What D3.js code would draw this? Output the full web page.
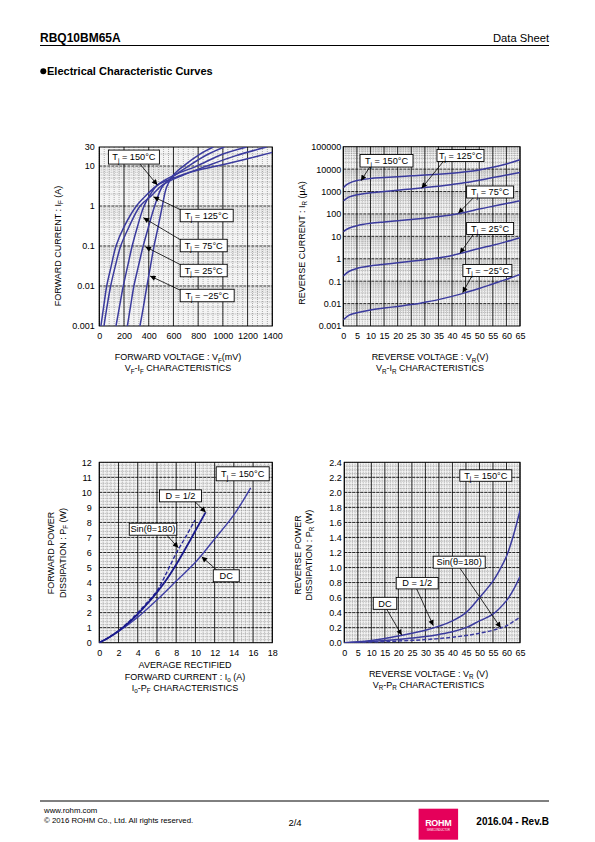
<!DOCTYPE html>
<html><head><meta charset="utf-8">
<script src="https://cdn.jsdelivr.net/npm/d3@7"></script>
<style>
body{margin:0;background:#fff}
svg{display:block}
text{font-family:"Liberation Sans",Arial,Helvetica,sans-serif;fill:#000}
</style>
</head><body>
<svg id="c" width="595" height="842"></svg>
<script>
// ---------------- DATA ----------------
// Chart 1: VF (mV) - IF (A)
const vfTicks = [0,200,400,600,800,1000,1200,1400];
const ifTicks = [0.001,0.01,0.1,1,10,30];
const vfif150 = [[13,0.001],[35,0.003],[60,0.01],[95,0.03],[135,0.1],[200,0.3],[300,1],[390,2],[470,3.35],[600,5],[750,7.2],[950,10],[1150,14],[1400,22]];
const vfif125 = [[38,0.001],[62,0.003],[92,0.01],[128,0.03],[173,0.1],[240,0.3],[330,1],[420,1.8],[510,3.35],[680,6],[869,10],[1100,18],[1355,30]];
const vfif75  = [[135,0.001],[163,0.003],[194,0.01],[228,0.03],[266,0.1],[308,0.3],[362,1],[415,2],[470,3.35],[610,6],[788,10],[1000,20],[1193,30]];
const vfif25  = [[227,0.001],[252,0.003],[280,0.01],[315,0.03],[355,0.1],[398,0.3],[448,1],[508,3],[580,5],[721,10],[883,20],[1012,30]];
const vfifM25 = [[329,0.001],[357,0.003],[385,0.01],[413,0.03],[443,0.1],[476,0.3],[510,1],[545,3],[600,6],[680,10],[815,20],[923,30]];

// Chart 2: VR (V) - IR (uA)
const vrTicks = [0,5,10,15,20,25,30,35,40,45,50,55,60,65];
const irTicks = [0.001,0.01,0.1,1,10,100,1000,10000,100000];
const vrir150 = [[0,1500],[2,2300],[5,3100],[10,3800],[15,4200],[20,4600],[25,5000],[30,5400],[35,5900],[40,6600],[45,7600],[50,9200],[55,12000],[60,17000],[65,26000]];
const vrir125 = [[0,380],[2,560],[5,720],[10,880],[15,1000],[20,1150],[25,1300],[30,1500],[35,1700],[40,2050],[45,2500],[50,3200],[55,4200],[60,5400],[65,7000]];
const vrir75  = [[0,16],[2,23],[5,30],[10,38],[15,44],[20,50],[25,57],[30,65],[35,76],[40,92],[45,120],[50,165],[55,220],[60,290],[65,390]];
const vrir25  = [[0,0.17],[2,0.27],[5,0.37],[10,0.48],[15,0.57],[20,0.66],[25,0.77],[30,0.9],[35,1.1],[40,1.4],[45,2.0],[50,2.9],[55,4.0],[60,5.8],[65,8.8]];
const vrirM25 = [[0,0.0019],[2,0.003],[5,0.0039],[10,0.0052],[15,0.0063],[20,0.0075],[25,0.009],[30,0.0115],[35,0.015],[40,0.021],[45,0.031],[50,0.047],[55,0.075],[60,0.12],[65,0.2]];

// Chart 3: Io (A) - PF (W)
const ioTicks = [0,2,4,6,8,10,12,14,16,18];
const pfTicks = [0,1,2,3,4,5,6,7,8,9,10,11,12];
const iopfDC  = [[0,0],[1,0.35],[2,0.75],[4,1.7],[6,2.85],[8,4.1],[10,5.35],[12,6.9],[14,8.5],[15.75,10.3]];
const iopfD12 = [[0,0],[1,0.35],[2,0.78],[3,1.3],[4,1.9],[5,2.6],[6,3.35],[7,4.2],[8,5.2],[9,6.3],[10,7.45],[11.06,8.67]];
const iopfSin = [[0,0],[1,0.35],[2,0.8],[3,1.35],[4,2.0],[5,2.7],[6,3.45],[7,4.65],[8,5.95],[9,7.05],[9.95,8.15]];

// Chart 4: VR (V) - PR (W)
const prTicks = [0,0.2,0.4,0.6,0.8,1.0,1.2,1.4,1.6,1.8,2.0,2.2,2.4];
const vrprDC  = [[0,0],[5,0.012],[10,0.03],[15,0.055],[20,0.088],[25,0.125],[30,0.165],[35,0.22],[40,0.29],[45,0.4],[50,0.6],[55,0.82],[57.5,0.97],[60,1.15],[62.5,1.42],[65,1.76]];
const vrprD12 = [[0,0],[5,0.006],[10,0.015],[15,0.028],[20,0.044],[25,0.062],[30,0.082],[35,0.11],[40,0.145],[45,0.2],[50,0.29],[55,0.38],[60,0.56],[62.5,0.7],[65,0.88]];
const vrprSin = [[0,0],[5,0.003],[10,0.008],[15,0.014],[20,0.022],[25,0.031],[30,0.041],[35,0.055],[40,0.072],[45,0.095],[50,0.125],[55,0.165],[57.8,0.196],[60,0.225],[65,0.34]];

// ---------------- DRAW ----------------
const svg = d3.select("#c");
const defs = svg.append("defs");
defs.append("marker").attr("id","ah").attr("viewBox","0 0 10 10").attr("refX",10).attr("refY",5)
  .attr("markerWidth",7).attr("markerHeight",5.5).attr("markerUnits","userSpaceOnUse").attr("orient","auto")
  .append("path").attr("d","M0,0 L10,5 L0,10 z").attr("fill","#000");

function rich(t, parts, fs) {
  let shift = 0;
  parts.forEach(p => {
    const ts = t.append("tspan");
    if (typeof p === "string") {
      ts.text(p);
      if (shift) { ts.attr("dy", -shift); shift = 0; }
    } else {
      const s = fs * 0.28;
      ts.attr("font-size", fs * 0.7).attr("dy", s).text(p.sub);
      shift = s;
    }
  });
  return t;
}
function txt(x, y, parts, fs, anchor, weight, rot) {
  const g = svg.append("g").attr("transform", `translate(${x},${y})` + (rot ? ` rotate(${rot})` : ""));
  const t = g.append("text").attr("font-size", fs).attr("text-anchor", anchor || "start");
  if (weight) t.attr("font-weight", weight);
  rich(t, parts, fs);
  return t;
}
function range(a, b, step) { const n = Math.round((b - a) / step); const r = []; for (let i = 0; i <= n; i++) r.push(+(a + i * step).toFixed(6)); return r; }
function logMinor(lo, hi) { const r = []; for (let e = -4; e <= 6; e++) for (let k = 2; k <= 9; k++) { const v = k * Math.pow(10, e); if (v > lo && v < hi) r.push(v); } return r; }

let clipId = 0;
function panel(o) {
  const g = svg.append("g");
  const x = d3.scaleLinear().domain(o.xDomain).range([o.left, o.right]);
  const y = (o.ylog ? d3.scaleLog() : d3.scaleLinear()).domain(o.yDomain).range([o.bottom, o.top]);
  const W = o.right - o.left, H = o.bottom - o.top;
  g.append("rect").attr("x", o.left).attr("y", o.top).attr("width", W).attr("height", H).attr("fill", "#f4f4f4");
  // minor grid
  const mg = g.append("g").attr("stroke", "#6e6e6e").attr("stroke-width", 0.55).attr("stroke-dasharray", "1,1");
  mg.selectAll("line.vx").data(o.xMinor).join("line").attr("class","vx")
    .attr("x1", d => x(d)).attr("x2", d => x(d)).attr("y1", o.top).attr("y2", o.bottom);
  mg.selectAll("line.hy").data(o.yMinor).join("line").attr("class","hy")
    .attr("x1", o.left).attr("x2", o.right).attr("y1", d => y(d)).attr("y2", d => y(d));
  // major grid
  g.append("g").attr("stroke", "#000").attr("stroke-width", 0.8)
    .selectAll("line").data(o.xMajor).join("line")
    .attr("x1", d => x(d)).attr("x2", d => x(d)).attr("y1", o.top).attr("y2", o.bottom);
  g.append("g").attr("stroke", "#000").attr("stroke-width", 0.8).attr("stroke-dasharray", "3,1")
    .selectAll("line").data(o.yMajor).join("line")
    .attr("x1", o.left).attr("x2", o.right).attr("y1", d => y(d)).attr("y2", d => y(d));
  // frame
  g.append("rect").attr("x", o.left).attr("y", o.top).attr("width", W).attr("height", H)
    .attr("fill", "none").attr("stroke", "#000").attr("stroke-width", 1);
  // clip
  const id = "clip" + (clipId++);
  defs.append("clipPath").attr("id", id).append("rect").attr("x", o.left).attr("y", o.top).attr("width", W).attr("height", H);
  const line = d3.line().x(d => x(d[0])).y(d => y(d[1])).curve(d3.curveCatmullRom.alpha(0.5));
  const cg = g.append("g").attr("clip-path", `url(#${id})`);
  o.series.forEach(s => {
    cg.append("path").datum(s.data).attr("d", line).attr("fill", "none")
      .attr("stroke", s.color || "#3b3b9e").attr("stroke-width", s.width || 1.5)
      .attr("stroke-dasharray", s.dash || null).attr("stroke-linejoin", "round");
  });
  // axes
  const ax = g.append("g").attr("transform", `translate(0,${o.bottom})`)
    .call(d3.axisBottom(x).tickValues(o.xTicks).tickFormat(o.xFmt || (d => d)).tickSize(0).tickPadding(o.xPad));
  const ay = g.append("g").attr("transform", `translate(${o.left},0)`)
    .call(d3.axisLeft(y).tickValues(o.yTicks).tickFormat(o.yFmt || (d => String(d))).tickSize(0).tickPadding(o.yPad));
  [ax, ay].forEach(a => {
    a.select(".domain").remove();
    a.attr("font-family", null).attr("font-size", null);
    a.selectAll("text").attr("font-size", 9).attr("fill", "#000");
  });
  // annotations
  const ag = g.append("g");
  (o.notes || []).forEach(n => {
    (n.arrows || []).forEach(a => {
      ag.append("line").attr("x1", x(a[0][0])).attr("y1", y(a[0][1])).attr("x2", x(a[1][0])).attr("y2", y(a[1][1]))
        .attr("stroke", "#000").attr("stroke-width", 0.8).attr("marker-end", "url(#ah)");
    });
  });
  (o.notes || []).forEach(n => {
    const cx = x(n.at[0]), cy = y(n.at[1]);
    ag.append("rect").attr("x", cx - n.w / 2).attr("y", cy - n.h / 2).attr("width", n.w).attr("height", n.h)
      .attr("fill", "#fff").attr("stroke", "#000").attr("stroke-width", 0.9);
    const t = ag.append("text").attr("x", cx).attr("y", cy + 3.3).attr("font-size", 9.2).attr("text-anchor", "middle");
    rich(t, n.label, 9.2);
  });
  return { x, y };
}

const tj = v => ["T", {sub: "j"}, " = " + v + "°C"];

// ---- Chart 1 ----
panel({
  left: 99.3, right: 272.3, top: 147, bottom: 326,
  xDomain: [0, 1400], yDomain: [0.001, 30], ylog: true,
  xMinor: range(0, 1400, 40), yMinor: logMinor(0.001, 30),
  xMajor: vfTicks, yMajor: [0.01, 0.1, 1, 10],
  xTicks: vfTicks, yTicks: ifTicks, xPad: 7, yPad: 4.5,
  series: [{data: vfif150}, {data: vfif125}, {data: vfif75}, {data: vfif25}, {data: vfifM25}],
  notes: [
    {label: tj("150"), at: [280, 16.8], w: 51, h: 14, arrows: [[[330, 11.2], [470, 3.35]]]},
    {label: tj("125"), at: [869, 0.58], w: 53, h: 12.5, arrows: [[[654, 0.82], [438, 1.7]]]},
    {label: tj("75"), at: [845, 0.103], w: 47, h: 12.5, arrows: [[[654, 0.145], [357, 0.51]]]},
    {label: tj("25"), at: [845, 0.0244], w: 47, h: 12.5, arrows: [[[654, 0.0345], [373, 0.096]]]},
    {label: tj("\u221225"), at: [873, 0.00579], w: 54, h: 12.5, arrows: [[[654, 0.0079], [411, 0.0178]]]}
  ]
});
txt(60.5, 246, ["FORWARD CURRENT : I", {sub: "F"}, " (A)"], 9, "middle", null, -90);
txt(178, 360, ["FORWARD VOLTAGE : V", {sub: "F"}, "(mV)"], 9, "middle");
txt(178, 371, ["V", {sub: "F"}, "-I", {sub: "F"}, " CHARACTERISTICS"], 9, "middle");

// ---- Chart 2 ----
panel({
  left: 343.3, right: 520, top: 146.7, bottom: 326,
  xDomain: [0, 65], yDomain: [0.001, 100000], ylog: true,
  xMinor: range(0, 65, 1), yMinor: logMinor(0.001, 100000),
  xMajor: vrTicks, yMajor: [0.01, 0.1, 1, 10, 100, 1000, 10000],
  xTicks: vrTicks, yTicks: irTicks, xPad: 7, yPad: 2,
  series: [{data: vrir150}, {data: vrir125}, {data: vrir75}, {data: vrir25}, {data: vrirM25}],
  notes: [
    {label: tj("150"), at: [15.9, 23500], w: 53, h: 12.5, arrows: [[[9.8, 12800], [6.5, 3040]]]},
    {label: tj("125"), at: [43.1, 40500], w: 47, h: 12, arrows: [[[36.8, 21900], [28.8, 1390]]]},
    {label: tj("75"), at: [54.0, 953], w: 47, h: 12, arrows: [[[47.8, 514], [42.3, 107]]]},
    {label: tj("25"), at: [54.0, 22.4], w: 47, h: 12, arrows: [[[47.8, 12.1], [42.9, 1.75]]]},
    {label: tj("\u221225"), at: [53.0, 0.3], w: 49, h: 12, arrows: [[[47.2, 0.161], [43.9, 0.0305]]]}
  ]
});
txt(304.5, 243, ["REVERSE CURRENT : I", {sub: "R"}, " (\u00b5A)"], 9, "middle", null, -90);
txt(430, 360, ["REVERSE VOLTAGE : V", {sub: "R"}, "(V)"], 9, "middle");
txt(430, 371, ["V", {sub: "R"}, "-I", {sub: "R"}, " CHARACTERISTICS"], 9, "middle");

// ---- Chart 3 ----
panel({
  left: 99.3, right: 272.3, top: 462.3, bottom: 642.7,
  xDomain: [0, 18], yDomain: [0, 12], ylog: false,
  xMinor: range(0, 18, 0.4), yMinor: range(0, 12, 0.2),
  xMajor: ioTicks, yMajor: pfTicks.slice(1, -1),
  xTicks: ioTicks, yTicks: pfTicks, xPad: 7, yPad: 7.5,
  series: [
    {data: iopfDC, color: "#4040a6", width: 1.4},
    {data: iopfSin, color: "#2a2a9a", width: 1.4, dash: "4,2"},
    {data: iopfD12, color: "#1a1a8c", width: 1.8}
  ],
  notes: [
    {label: tj("150"), at: [14.92, 11.235], w: 53, h: 14},
    {label: ["D = 1/2"], at: [8.45, 9.77], w: 42, h: 12, arrows: [[[9.96, 9.38], [11.07, 8.67]]]},
    {label: ["Sin(\u03b8=180)"], at: [5.59, 7.55], w: 47.5, h: 12, arrows: [[[7.01, 7.16], [8.22, 6.32]]]},
    {label: ["DC"], at: [13.21, 4.45], w: 26, h: 12, arrows: [[[12.22, 4.84], [10.65, 5.72]]]}
  ]
});
txt(53.5, 553, ["FORWARD POWER"], 9, "middle", null, -90);
txt(65.5, 553, ["DISSIPATION : P", {sub: "F"}, " (W)"], 9, "middle", null, -90);
txt(185, 668, ["AVERAGE RECTIFIED"], 9, "middle");
txt(185, 679.5, ["FORWARD CURRENT : I", {sub: "o"}, " (A)"], 9, "middle");
txt(185, 690.5, ["I", {sub: "o"}, "-P", {sub: "F"}, " CHARACTERISTICS"], 9, "middle");

// ---- Chart 4 ----
panel({
  left: 344.3, right: 520, top: 462.3, bottom: 642.7,
  xDomain: [0, 65], yDomain: [0, 2.4], ylog: false,
  xMinor: range(0, 65, 1), yMinor: range(0, 2.4, 0.05),
  xMajor: vrTicks, yMajor: prTicks.slice(1, -1),
  xTicks: vrTicks, yTicks: prTicks, xPad: 7, yPad: 2.5, yFmt: d3.format(".1f"),
  series: [
    {data: vrprDC, color: "#3b3b9e", width: 1.5},
    {data: vrprD12, color: "#3b3b9e", width: 1.5},
    {data: vrprSin, color: "#3b3b9e", width: 1.5, dash: "4,2"}
  ],
  notes: [
    {label: tj("150"), at: [52.35, 2.224], w: 52, h: 11.5},
    {label: ["Sin(\u03b8=180)"], at: [42.5, 1.071], w: 52, h: 12, arrows: [[[42.8, 0.99], [57.86, 0.2]]]},
    {label: ["D = 1/2"], at: [26.97, 0.792], w: 42, h: 11.5, arrows: [[[26.8, 0.714], [32.93, 0.226]]]},
    {label: ["DC"], at: [15.06, 0.524], w: 23.5, h: 12, arrows: [[[15.69, 0.444], [21.24, 0.102]]]}
  ]
});
txt(300.5, 555, ["REVERSE POWER"], 9, "middle", null, -90);
txt(311.5, 555, ["DISSIPATION : P", {sub: "R"}, " (W)"], 9, "middle", null, -90);
txt(428.5, 676.5, ["REVERSE VOLTAGE : V", {sub: "R"}, " (V)"], 9, "middle");
txt(428.5, 687.5, ["V", {sub: "R"}, "-P", {sub: "R"}, " CHARACTERISTICS"], 9, "middle");

// ---- Header / footer ----
txt(40, 42, ["RBQ10BM65A"], 12, "start", "bold");
txt(549, 42, ["Data Sheet"], 11.2, "end");
svg.append("line").attr("x1", 40).attr("x2", 549).attr("y1", 45.5).attr("y2", 45.5).attr("stroke", "#000").attr("stroke-width", 1);
svg.append("circle").attr("cx", 43.3).attr("cy", 71.3).attr("r", 3).attr("fill", "#000");
txt(47, 75, ["Electrical Characteristic Curves"], 11, "start", "bold");

svg.append("line").attr("x1", 40).attr("x2", 549).attr("y1", 801).attr("y2", 801).attr("stroke", "#000").attr("stroke-width", 1);
txt(44, 812.5, ["www.rohm.com"], 7.8, "start");
txt(44, 823, ["\u00a9 2016  ROHM Co., Ltd. All rights reserved."], 7.8, "start");
txt(295, 826, ["2/4"], 9.5, "middle");
svg.append("rect").attr("x", 418.6).attr("y", 808.7).attr("width", 39.5).attr("height", 31).attr("fill", "#e5005a");
svg.append("text").attr("x", 438.3).attr("y", 826).attr("font-size", 9).attr("font-weight", "bold")
  .attr("text-anchor", "middle").style("fill", "#fff").attr("letter-spacing", -0.3).text("ROHM");
svg.append("text").attr("x", 438.3).attr("y", 830.5).attr("font-size", 2.6)
  .attr("text-anchor", "middle").style("fill", "#fff").text("SEMICONDUCTOR");
txt(549, 825, ["2016.04 -  Rev.B"], 10, "end", "bold");
</script>
</body></html>
